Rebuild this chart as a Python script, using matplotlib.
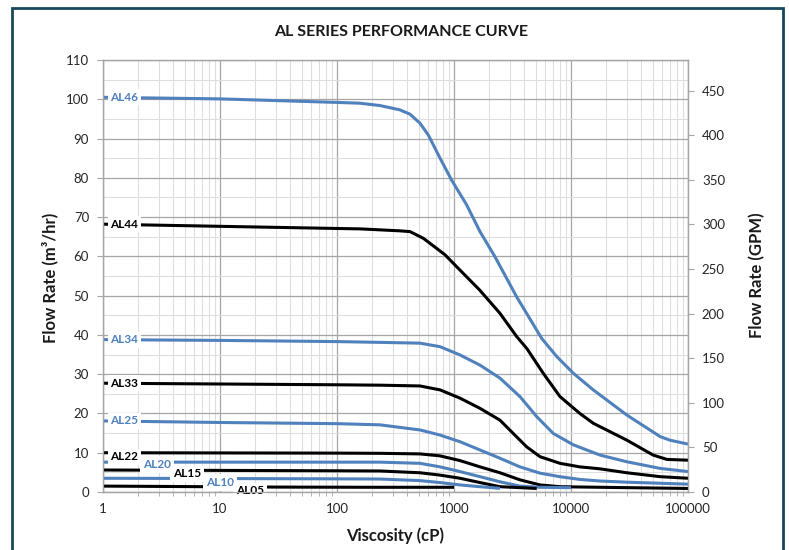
import matplotlib
matplotlib.use("Agg")
import matplotlib.pyplot as plt
import matplotlib.ticker as ticker
from matplotlib.patches import Rectangle

plt.rcParams['font.family'] = ['Lato', 'DejaVu Sans']

BLUE = '#4f81bd'
BLACK = '#000000'

# viscosity (cP) / flow rate (m3/hr)
al46_x = [1, 10, 100, 157, 233, 345, 421, 512, 603, 760, 955, 1283, 1668, 2240, 3430, 5620, 7550, 10500, 15500, 30000, 57900, 70000, 100000]
al46_y = [100.5, 100.1, 99.2, 99.0, 98.4, 97.3, 96.2, 93.9, 90.9, 85.0, 79.4, 73.1, 66.3, 59.9, 49.7, 39.1, 34.5, 30.2, 26.0, 19.6, 14.1, 13.2, 12.2]

al44_x = [1, 100, 157, 345, 421, 547, 838, 1100, 1660, 2470, 3430, 4200, 5800, 8050, 11900, 15500, 30000, 50400, 66000, 100000]
al44_y = [68.2, 67.1, 67.0, 66.5, 66.3, 64.6, 60.4, 56.8, 51.4, 45.5, 39.6, 36.5, 30.2, 24.3, 20.0, 17.5, 13.2, 9.4, 8.3, 8.1]

al34_x = [1, 10, 100, 233, 512, 760, 1125, 1668, 2470, 3660, 5090, 7060, 10500, 17700, 30000, 58000, 100000]
al34_y = [38.8, 38.6, 38.3, 38.1, 37.9, 37.0, 34.9, 32.3, 29.0, 24.3, 19.2, 14.9, 12.0, 9.4, 7.7, 6.0, 5.2]

al33_x = [1, 10, 100, 233, 512, 760, 1125, 1668, 2470, 3210, 4180, 5430, 8050, 11900, 17700, 30000, 58000, 100000]
al33_y = [27.7, 27.5, 27.3, 27.2, 27.0, 26.0, 23.9, 21.3, 18.3, 14.9, 11.5, 9.0, 7.3, 6.4, 5.9, 4.9, 3.9, 3.5]

al25_x = [1, 10, 100, 233, 512, 760, 1125, 1668, 2470, 3660, 5430, 8050, 11900, 17700, 30000, 100000]
al25_y = [18.1, 17.7, 17.4, 17.1, 15.8, 14.5, 12.8, 10.7, 8.6, 6.4, 4.8, 3.9, 3.2, 2.8, 2.5, 2.0]

al22_x = [1, 100, 233, 512, 760, 1125, 1668, 2470, 3660, 5430, 8050, 17700, 100000]
al22_y = [10.0, 9.9, 9.85, 9.7, 9.2, 8.0, 6.4, 4.9, 3.1, 1.8, 1.35, 1.2, 0.9]

al20_x = [1, 100, 233, 512, 760, 1125, 1668, 2470, 3660, 5430, 10000]
al20_y = [7.6, 7.6, 7.6, 7.3, 6.4, 5.2, 3.9, 2.6, 1.5, 1.2, 1.1]

al15_x = [1, 100, 233, 512, 760, 1125, 1668, 2470, 5090]
al15_y = [5.6, 5.4, 5.35, 4.9, 4.3, 3.5, 2.4, 1.35, 0.9]

al10_x = [1, 100, 233, 512, 760, 1125, 1668, 2470]
al10_y = [3.5, 3.35, 3.3, 2.9, 2.4, 1.8, 1.35, 0.93]

al05_x = [1, 32, 233, 1000]
al05_y = [1.5, 1.25, 1.2, 1.2]

names = ['AL46', 'AL44', 'AL34', 'AL33', 'AL25', 'AL22', 'AL20', 'AL15', 'AL10', 'AL05']
xs = [al46_x, al44_x, al34_x, al33_x, al25_x, al22_x, al20_x, al15_x, al10_x, al05_x]
ys = [al46_y, al44_y, al34_y, al33_y, al25_y, al22_y, al20_y, al15_y, al10_y, al05_y]
colors = [BLUE, BLACK, BLUE, BLACK, BLUE, BLACK, BLUE, BLACK, BLUE, BLACK]

# where the data labels sit (viscosity, flow)
label_x = [1.15, 1.15, 1.15, 1.15, 1.15, 1.15, 2.2, 3.97, 7.6, 13.7]
label_y = [100.5, 68.2, 38.8, 27.7, 18.1, 9.0, 7.0, 4.6, 2.4, 0.3]

GPM_PER_M3H = 4.403

fig = plt.figure(figsize=(7.89, 5.5), dpi=100)
ax = fig.add_axes([103 / 789, 1 - 492 / 550, (688 - 103) / 789, (492 - 60) / 550])

ax.set_xscale('log')
ax.set_xlim(1, 100000)
ax.set_ylim(0, 110)
ax.yaxis.set_major_locator(ticker.MultipleLocator(10))
ax.yaxis.set_minor_locator(ticker.MultipleLocator(5))
ax.xaxis.set_major_formatter(ticker.FuncFormatter(lambda v, p: '%d' % v))
ax.xaxis.set_minor_formatter(ticker.NullFormatter())

ax.grid(True, which='major', axis='both', color='#a6a6a6', lw=0.9)
ax.grid(True, which='minor', axis='both', color='#dedede', lw=0.8)
ax.set_axisbelow(True)

for name, x, y, c in zip(names, xs, ys, colors):
    ax.plot(x, y, color=c, lw=2.2, solid_capstyle='butt', solid_joinstyle='round', zorder=3)

for name, lx, ly, c in zip(names, label_x, label_y, colors):
    ax.text(lx, ly, name, color=c, fontsize=8.5, fontweight='bold', ha='left', va='center', zorder=5,
            bbox=dict(boxstyle='square,pad=0.22', fc='white', ec='none'))

for s in ax.spines.values():
    s.set_color('#a6a6a6')
    s.set_linewidth(0.9)

ax.tick_params(axis='both', which='both', colors='#a6a6a6', labelcolor='#262626', labelsize=9.5)
ax.tick_params(axis='x', which='major', length=0, pad=8)
ax.tick_params(axis='x', which='minor', length=3)
ax.tick_params(axis='y', which='major', length=4, pad=6)
ax.tick_params(axis='y', which='minor', length=0)

ax2 = ax.twinx()
ax2.set_ylim(0, 110 * GPM_PER_M3H)
ax2.yaxis.set_major_locator(ticker.MultipleLocator(50))
ax2.tick_params(axis='y', colors='#a6a6a6', labelcolor='#262626', labelsize=9.5, length=4, pad=6)
for s in ax2.spines.values():
    s.set_color('#a6a6a6')
    s.set_linewidth(0.9)

fig.text(0.508, 1 - 32 / 550, 'AL SERIES PERFORMANCE CURVE', ha='center', va='center',
         fontsize=11.5, fontweight='bold', color='#1a1a1a')
fig.text(395.5 / 789, 1 - 536 / 550, 'Viscosity (cP)', ha='center', va='center',
         fontsize=12, fontweight='bold', color='#1a1a1a')
fig.text(50 / 789, 1 - 278 / 550, 'Flow Rate (m\u00b3/hr)', ha='center', va='center', rotation=90,
         fontsize=12, fontweight='bold', color='#1a1a1a')
fig.text(757 / 789, 1 - 275 / 550, 'Flow Rate (GPM)', ha='center', va='center', rotation=90,
         fontsize=12, fontweight='bold', color='#1a1a1a')

# frame of the page around the chart
fig.patches.append(Rectangle((12 / 789, -0.05), (783 - 12) / 789, 1.05 - 8 / 550,
                             transform=fig.transFigure, fill=False, ec='#17475a', lw=2))

fig.savefig('out.png', dpi=100)
